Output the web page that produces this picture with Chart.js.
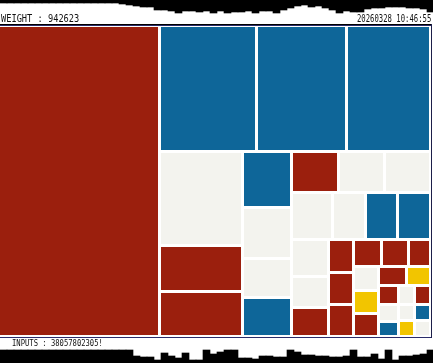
<!DOCTYPE html>
<html>
<head>
<meta charset="utf-8">
<script src="https://cdn.jsdelivr.net/npm/chart.js@4"></script>
<style>
  html, body { margin: 0; padding: 0; background: #fff; }
  #page { position: relative; width: 433px; height: 363px; overflow: hidden; background: #fff; }
  canvas { position: absolute; left: 0; display: block; }
  .rule { position: absolute; left: 0; width: 432px; height: 1px; }
  .label { position: absolute; font-family: "DejaVu Sans Mono", monospace; font-size: 10px; line-height: 10px; color: #111; white-space: nowrap; transform-origin: left top; }
</style>
</head>
<body>
<div id="page">
  <canvas id="skyTop" width="434" height="14" style="top:0"></canvas>
  <div class="label" id="weight" style="left:1px;top:14px">WEIGHT : 942623</div>
  <div class="label" id="stamp" style="left:357px;top:14px">20260328 10:46:55</div>
  <div class="rule" style="top:24px;background:#000"></div>
  <div class="rule" style="top:25px;background:#2a2c6a"></div>
  <canvas id="tree" width="433" height="315" style="top:24px"></canvas>
  <div class="rule" style="top:337px;background:#2a2c6a"></div>
  <div style="position:absolute;left:431px;top:24px;width:1px;height:314px;background:#1d1f4a"></div>
  <div class="label" id="inputs" style="left:12px;top:339px;font-size:9px;line-height:9px">INPUTS : 38057802305!</div>
  <canvas id="skyBottom" width="434" height="14" style="top:349px"></canvas>
</div>
<script>
// treemap cells, largest first (squarified layout below)
const cellValues = [50071, 12174, 11295, 10542, 7838, 3795, 3713, 2822, 2525, 1931, 1931,
    1930, 1920, 1910, 1900, 1545, 1540, 1530, 1332, 1152, 1044, 825, 825, 800, 756, 756, 594,
    576, 576, 552, 522, 450, 400, 330, 315, 310, 292, 272, 258, 255, 248];
const cellTones = ['R', 'B', 'B', 'B', 'W', 'R', 'R', 'B', 'W', 'W', 'B',
    'R', 'W', 'W', 'W', 'W', 'B', 'B', 'W', 'W', 'R', 'R', 'R', 'R', 'R', 'R', 'R',
    'W', 'Y', 'R', 'R', 'Y', 'R', 'W', 'B', 'W', 'R', 'W', 'B', 'Y', 'W'];

// skyline strips (depth of black, 7px bins)
const topDepths = [3, 3, 3, 3, 3, 3, 3, 3, 3, 3, 3, 3, 3, 3, 3, 3, 3, 4, 5, 6, 7, 7,
    10, 10, 11, 13, 11, 11, 12, 11, 13, 11, 13, 12, 12, 11, 13, 11, 11, 13, 10, 8, 6, 5,
    7, 6, 8, 10, 13, 11, 12, 12, 9, 8, 8, 7, 7, 7, 8, 8, 9, 12];
const bottomHeights = [13, 13, 13, 13, 13, 13, 13, 13, 13, 13, 13, 13, 13, 13, 13, 13, 13, 13, 13,
    7, 6, 6, 3, 10, 7, 5, 10, 3, 3, 13, 9, 11, 13, 13, 5, 5, 4, 7, 7, 6, 6, 13, 11, 8,
    8, 7, 7, 6, 6, 7, 13, 6, 6, 9, 4, 13, 3, 7, 7, 8, 9, 13];

const PALETTE = { R: '#9b1f0d', B: '#0e6699', W: '#f3f3ee', Y: '#f2c500' };
const GAP = 1.5;

// classic squarify (aspect ratio 1), rows/columns in value order
function squarify(values, x0, y0, x1, y1) {
    const out = [];
    let total = values.reduce((a, b) => a + b, 0);
    let i0 = 0;
    while (i0 < values.length) {
        const dx = x1 - x0, dy = y1 - y0;
        let i1 = i0 + 1;
        let sum = values[i0], min = sum, max = sum;
        const alpha = Math.max(dy / dx, dx / dy) / total;
        let beta = sum * sum * alpha;
        let best = Math.max(max / beta, beta / min);
        for (; i1 < values.length; i1++) {
            const v = values[i1];
            const s = sum + v;
            const b = s * s * alpha;
            const r = Math.max(Math.max(max, v) / b, b / Math.min(min, v));
            if (r > best) break;
            sum = s; best = r;
            min = Math.min(min, v); max = Math.max(max, v);
        }
        if (dx < dy) {
            const h = dy * sum / total;
            let cx = x0;
            for (let i = i0; i < i1; i++) {
                const w = dx * values[i] / sum;
                out.push({ x: cx, y: y0, x0: cx, y0: y0, x1: cx + w, y1: y0 + h, tone: cellTones[i] });
                cx += w;
            }
            y0 += h;
        } else {
            const w = dx * sum / total;
            let cy = y0;
            for (let i = i0; i < i1; i++) {
                const h = dy * values[i] / sum;
                out.push({ x: x0, y: cy, x0: x0, y0: cy, x1: x0 + w, y1: cy + h, tone: cellTones[i] });
                cy += h;
            }
            x0 += w;
        }
        total -= sum;
        i0 = i1;
    }
    return out;
}

const cells = squarify(cellValues, 0, 0, 432, 311);

const cellPainter = {
    id: 'cellPainter',
    afterDatasetsDraw(chart) {
        const { ctx, scales: { x, y } } = chart;
        ctx.save();
        chart.data.datasets[0].data.forEach(c => {
            const l = Math.round(x.getPixelForValue(c.x0) + GAP);
            const r = Math.round(x.getPixelForValue(c.x1) - GAP);
            const t = Math.round(y.getPixelForValue(c.y0) + GAP);
            const b = Math.round(y.getPixelForValue(c.y1) - GAP);
            ctx.fillStyle = PALETTE[c.tone];
            ctx.fillRect(l, t, r - l, b - t);
        });
        ctx.restore();
    }
};

new Chart(document.getElementById('tree'), {
    type: 'scatter',
    data: { datasets: [{ data: cells, pointRadius: 0, pointHoverRadius: 0 }] },
    options: {
        responsive: false,
        animation: false,
        events: [],
        layout: { padding: 0 },
        plugins: { legend: { display: false }, tooltip: { enabled: false } },
        scales: {
            x: { type: 'linear', display: false, min: 1.5, max: 434.5 },
            y: { type: 'linear', display: false, min: -1.5, max: 313.5, reverse: true }
        }
    },
    plugins: [cellPainter]
});

function skyline(id, values, hanging) {
    return new Chart(document.getElementById(id), {
        type: 'bar',
        data: {
            labels: values.map((_, i) => i),
            datasets: [{
                data: values,
                backgroundColor: '#000',
                borderWidth: 0,
                barPercentage: 1,
                categoryPercentage: 1
            }]
        },
        options: {
            responsive: false,
            animation: false,
            events: [],
            layout: { padding: 0 },
            plugins: { legend: { display: false }, tooltip: { enabled: false } },
            scales: {
                x: { display: false },
                y: { display: false, min: 0, max: 14, reverse: hanging }
            }
        }
    });
}

skyline('skyTop', topDepths, true);
skyline('skyBottom', bottomHeights, false);

// squeeze the labels to the widths of the original strip text
function fitText(id, width) {
    const el = document.getElementById(id);
    el.style.transform = `scaleX(${width / el.offsetWidth})`;
}
fitText('weight', 78);
fitText('stamp', 74);
fitText('inputs', 91);
</script>
</body>
</html>
